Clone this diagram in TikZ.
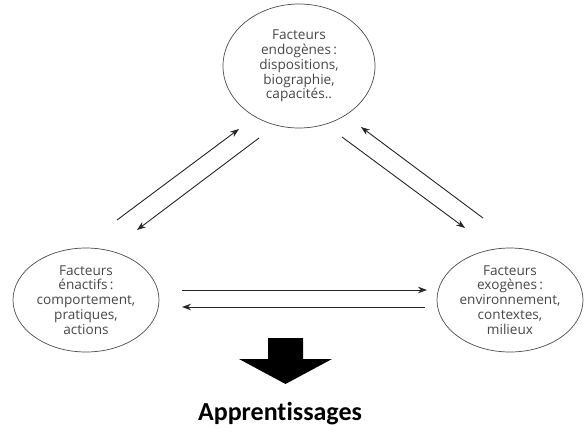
\documentclass[tikz,border=0pt]{standalone}
\usepackage{fontspec}
\newfontfamily\bulle{Open Sans}
\newfontfamily\titre[Ligatures=NoCommon]{Carlito}
\usetikzlibrary{shapes.geometric,arrows.meta}
\tikzset{facteur/.style={ellipse, draw=black!70, line width=0.7pt, align=center, inner sep=0pt,
  text=black!72, font=\bulle\fontsize{13.6}{14.8}\selectfont}}
\tikzset{fleche/.style={line width=0.9pt, draw=black!85, -{Stealth[length=9pt,width=6.5pt]}}}

\begin{document}
\begin{tikzpicture}[x=1pt,y=-1pt]
    \useasboundingbox (0,0) rectangle (584,432);

%les trois facteurs
    \node[facteur, minimum width=152pt, minimum height=124pt] (endo) at (299,66)
      {Facteurs\\endogènes\,:\\dispositions,\\biographie,\\capacités..};
    \node[facteur, minimum width=146pt, minimum height=104pt] (enact) at (86,300)
      {Facteurs\\énactifs\,:\\comportement,\\pratiques,\\actions};
    \node[facteur, minimum width=146pt, minimum height=104pt] (exo) at (510,300)
      {Facteurs\\exogènes\,:\\environnement,\\contextes,\\milieux};

    \coordinate (A0) at (117,220);
    \coordinate (A1) at (239,129);
    \coordinate (B0) at (259,138);
    \coordinate (B1) at (137,230);

    \coordinate (C0) at (342,137);
    \coordinate (C1) at (465,228);
    \coordinate (D0) at (483,218);
    \coordinate (D1) at (361,127);

    \coordinate (E0) at (182,290);
    \coordinate (E1) at (427,290);
    \coordinate (F0) at (425,307);
    \coordinate (F1) at (182,307);

    \draw[fleche] (A0) -- (A1);
    \draw[fleche] (B0) -- (B1);
    \draw[fleche] (C0) -- (C1);
    \draw[fleche] (D0) -- (D1);
    \draw[fleche] (E0) -- (E1);
    \draw[fleche] (F0) -- (F1);

%grosse fleche
    \fill[black] (268,338) -- (303,338) -- (303,359) -- (332,359) -- (285.5,384)
      -- (239,359) -- (268,359) -- cycle;

    \node[font=\titre\bfseries\fontsize{26}{30}\selectfont] (appr) at (280,414) {Apprentissages};
\end{tikzpicture}
\end{document}
